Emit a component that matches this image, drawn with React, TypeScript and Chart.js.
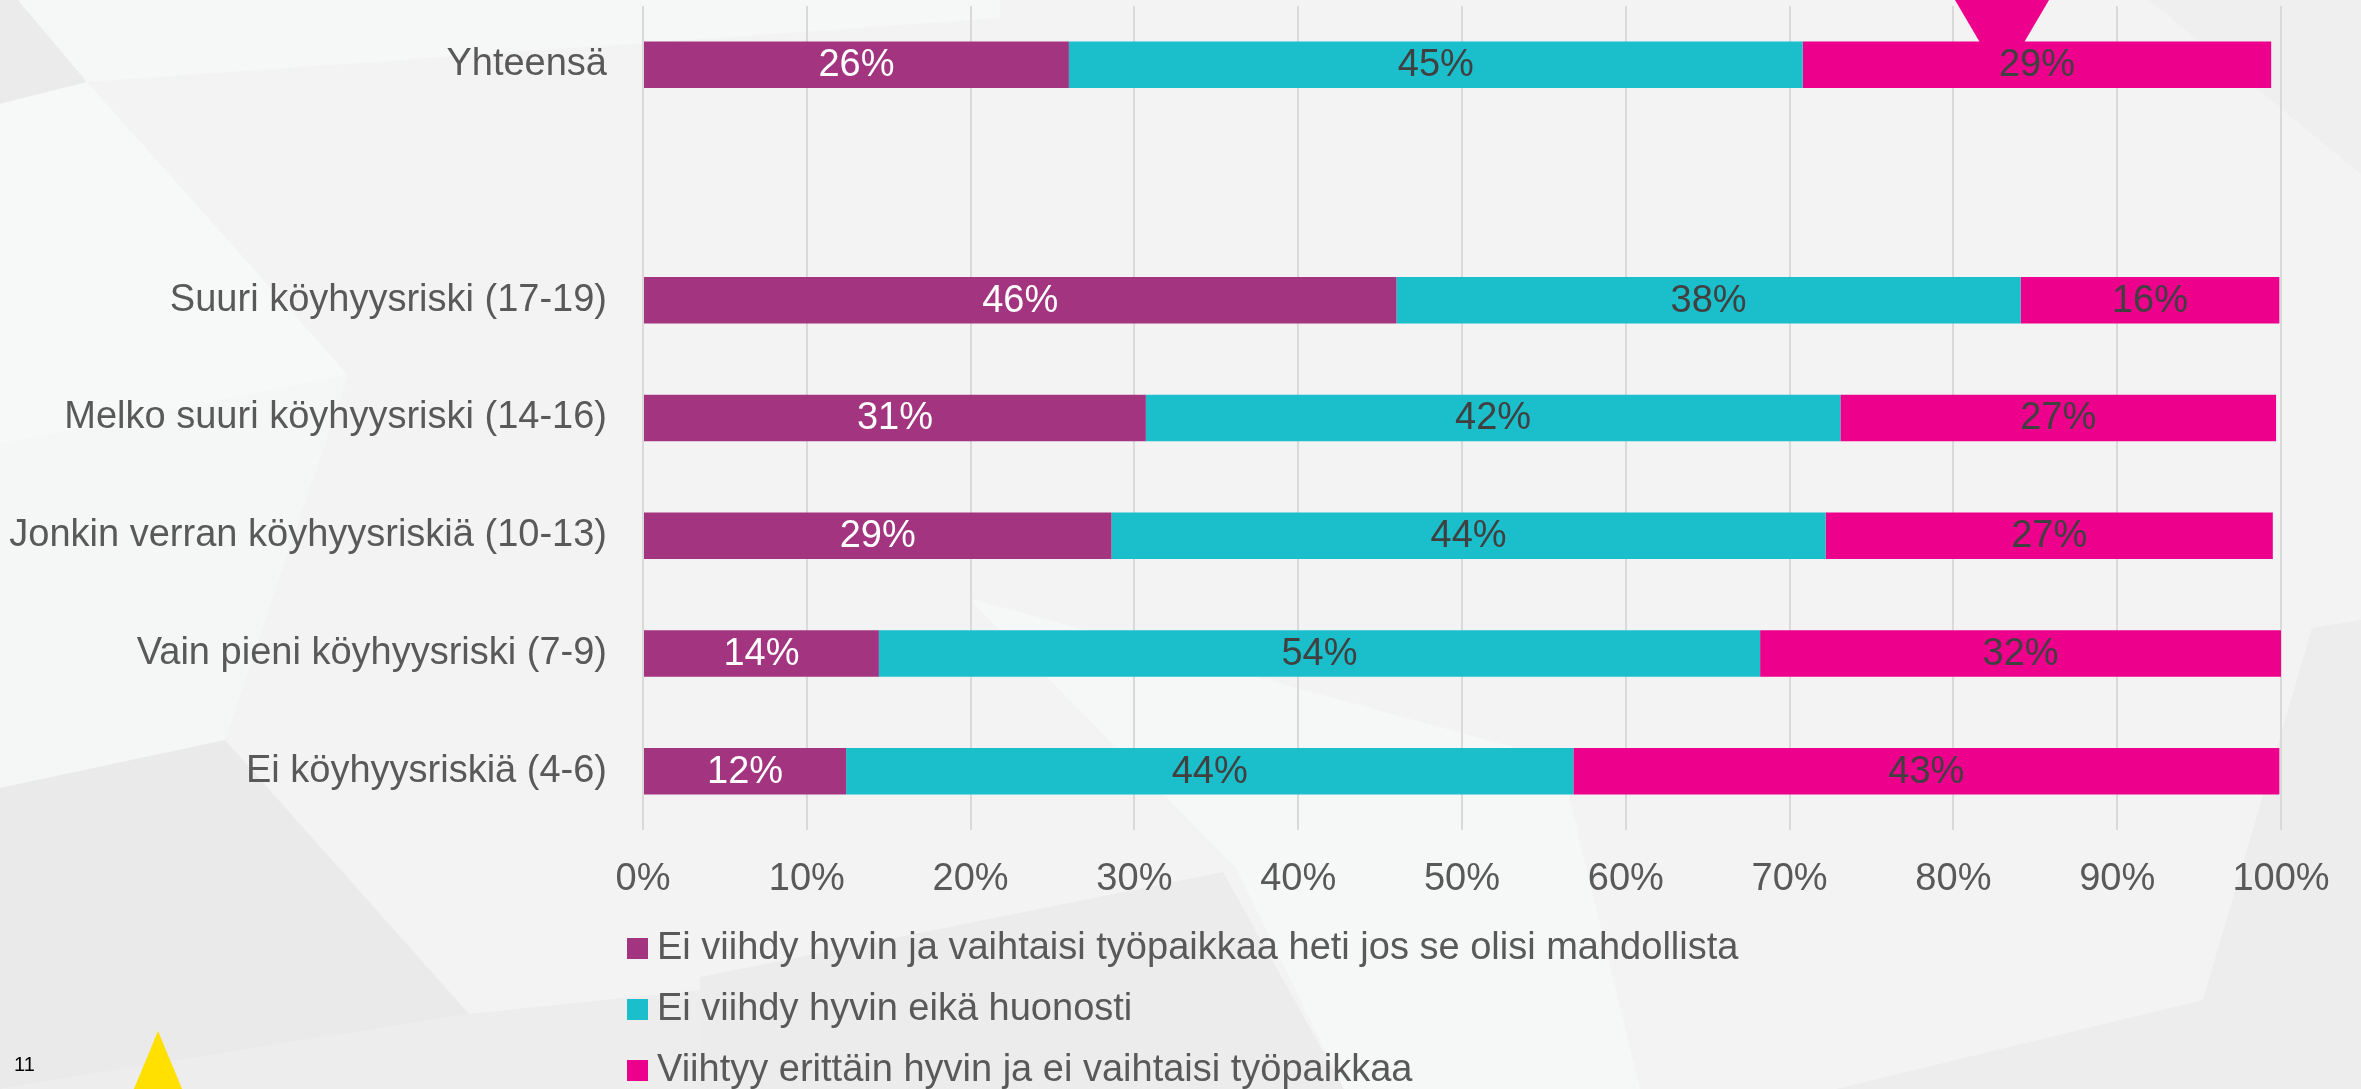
import { useEffect, useRef } from "react";
import { Chart, registerables } from "chart.js";

Chart.register(...registerables);

const categories = [
  "Yhteensä",
  "",
  "Suuri köyhyysriski (17-19)",
  "Melko suuri köyhyysriski (14-16)",
  "Jonkin verran köyhyysriskiä (10-13)",
  "Vain pieni köyhyysriski (7-9)",
  "Ei köyhyysriskiä (4-6)",
];

const seriesNames = [
  "Ei viihdy hyvin ja vaihtaisi työpaikkaa heti jos se olisi mahdollista",
  "Ei viihdy hyvin eikä huonosti",
  "Viihtyy erittäin hyvin ja ei vaihtaisi työpaikkaa",
];

const vaihtaisi = [26.0, null, 46.0, 30.7, 28.6, 14.4, 12.4];
const neutraali = [44.8, null, 38.1, 42.4, 43.6, 53.8, 44.4];
const viihtyy = [28.6, null, 15.8, 26.6, 27.3, 31.8, 43.1];

const xTicks = [0, 10, 20, 30, 40, 50, 60, 70, 80, 90, 100];

const colors = ["#A3347F", "#1BBECB", "#EC008C"];
const labelColors = ["#FFFFFF", "#404040", "#404040"];

const FONT = "'Liberation Sans', Arial, sans-serif";

const backgroundPlugin = {
  id: "slideBackground",
  beforeDraw(chart: any) {
    const ctx = chart.ctx;
    const w = chart.width;
    const h = chart.height;
    ctx.save();
    ctx.fillStyle = "#f3f3f3";
    ctx.fillRect(0, 0, w, h);
    const poly = (pts: number[][], color: string) => {
      ctx.beginPath();
      ctx.moveTo(pts[0][0], pts[0][1]);
      for (let i = 1; i < pts.length; i++) ctx.lineTo(pts[i][0], pts[i][1]);
      ctx.closePath();
      ctx.fillStyle = color;
      ctx.fill();
    };
    poly([[0, 0], [18, 0], [87, 82], [0, 104]], "#ebebeb");
    poly([[18, 0], [1000, 0], [1000, 18], [87, 82]], "#f6f7f7");
    poly([[0, 104], [87, 82], [348, 375], [0, 444]], "#f7f8f8");
    poly([[0, 444], [348, 375], [225, 740], [0, 788]], "#f5f6f6");
    poly([[0, 788], [225, 740], [469, 1014], [0, 1089]], "#eaeaea");
    poly([[469, 1014], [700, 990], [700, 1089], [0, 1089]], "#ededee");
    poly([[700, 977], [1223, 872], [1344, 1089], [700, 1089]], "#ececec");
    poly([[968, 598], [1236, 868], [1344, 1089], [1640, 1089], [1560, 760]], "#f6f7f7");
    poly([[2149, 0], [2361, 0], [2361, 174]], "#efefef");
    poly([[2312, 628], [2361, 620], [2361, 1089], [1836, 1089], [2203, 1000]], "#ededee");
    // pink marker at top
    poly([[1955, 0], [2049, 0], [2002, 80]], "#EC008C");
    // yellow marker at bottom-left
    poly([[158, 1031], [195, 1120], [121, 1120]], "#FFE000");
    ctx.fillStyle = "#000000";
    ctx.font = `20px ${FONT}`;
    ctx.textAlign = "left";
    ctx.textBaseline = "middle";
    ctx.fillText("11", 14, 1065);
    ctx.restore();
  },
};

const barLabelPlugin = {
  id: "barLabels",
  afterDatasetsDraw(chart: any) {
    const ctx = chart.ctx;
    ctx.save();
    ctx.font = `38px ${FONT}`;
    ctx.textAlign = "center";
    ctx.textBaseline = "middle";
    chart.data.datasets.forEach((ds: any, di: number) => {
      const meta = chart.getDatasetMeta(di);
      meta.data.forEach((el: any, i: number) => {
        const v = ds.data[i];
        if (v === null || v === undefined) return;
        const p = el.getProps(["x", "y", "base"], true);
        ctx.fillStyle = labelColors[di];
        ctx.fillText(`${Math.round(v)}%`, (p.x + p.base) / 2, p.y + 1);
      });
    });
    ctx.restore();
  },
};

const legendPlugin = {
  id: "stackedLegend",
  afterDraw(chart: any) {
    const ctx = chart.ctx;
    ctx.save();
    ctx.font = `38px ${FONT}`;
    ctx.textAlign = "left";
    ctx.textBaseline = "middle";
    const rows = [948, 1009, 1070];
    chart.data.datasets.forEach((ds: any, di: number) => {
      const y = rows[di];
      ctx.fillStyle = ds.backgroundColor;
      ctx.fillRect(627, y - 10, 21, 21);
      ctx.fillStyle = "#595959";
      ctx.fillText(ds.label, 657, y + 1);
    });
    ctx.restore();
  },
};

export default function App() {
  const ref = useRef<HTMLCanvasElement | null>(null);

  useEffect(() => {
    if (!ref.current) return;
    const seriesData = [vaihtaisi, neutraali, viihtyy];
    const chart = new Chart(ref.current, {
      type: "bar",
      data: {
        labels: categories,
        datasets: seriesData.map((d, i) => ({
          label: seriesNames[i],
          data: d,
          backgroundColor: colors[i],
          borderWidth: 0,
          categoryPercentage: 1,
          barPercentage: 0.395,
        })),
      },
      options: {
        indexAxis: "y",
        animation: false,
        responsive: false,
        devicePixelRatio: 1,
        layout: { padding: { top: 6, right: 80, bottom: 199, left: 0 } },
        plugins: {
          legend: { display: false },
          tooltip: { enabled: false },
        },
        scales: {
          x: {
            type: "linear",
            stacked: true,
            min: 0,
            max: 100,
            afterBuildTicks: (scale: any) => {
              scale.ticks = xTicks.map((v) => ({ value: v }));
            },
            afterFit: (scale: any) => {
              scale.height = 60;
            },
            ticks: {
              callback: (v: any) => `${v}%`,
              color: "#595959",
              font: { family: FONT, size: 38 },
              padding: 27,
              maxRotation: 0,
            },
            grid: { color: "#d9d9d9", lineWidth: 2, drawTicks: false },
            border: { display: false },
          },
          y: {
            type: "category",
            stacked: true,
            afterFit: (scale: any) => {
              scale.width = 643;
              scale.paddingTop = 0;
              scale.paddingBottom = 0;
            },
            ticks: {
              color: "#595959",
              font: { family: FONT, size: 38 },
              padding: 36,
            },
            grid: { display: false, drawTicks: false },
            border: { display: false },
          },
        },
      },
      plugins: [backgroundPlugin, barLabelPlugin, legendPlugin],
    });
    return () => chart.destroy();
  }, []);

  return (
    <div style={{ position: "fixed", left: 0, top: 0, width: 2361, height: 1089, overflow: "hidden" }}>
      <canvas ref={ref} width={2361} height={1089} style={{ display: "block", width: 2361, height: 1089 }} />
    </div>
  );
}
